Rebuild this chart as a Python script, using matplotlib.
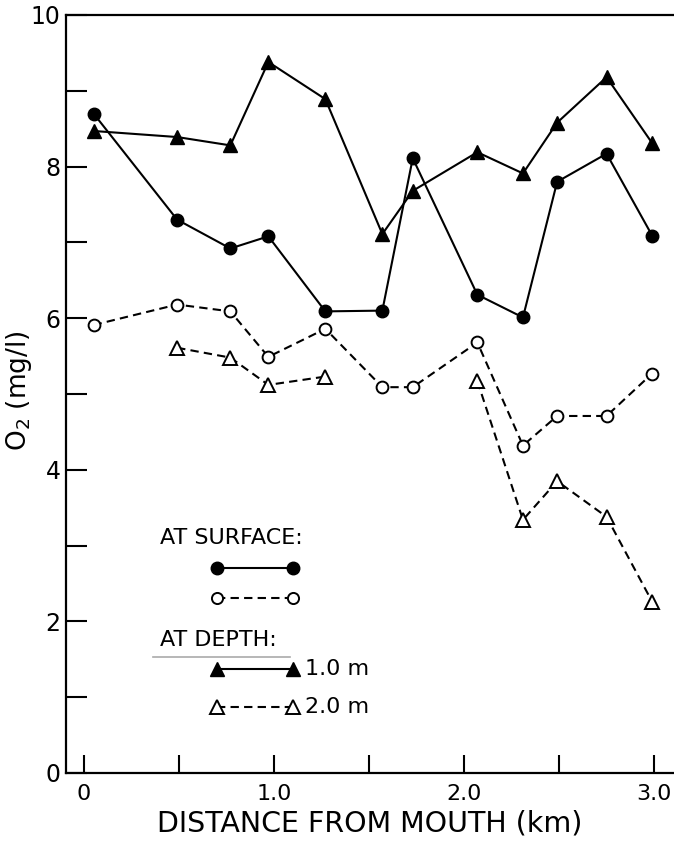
import matplotlib
matplotlib.use("Agg")
import matplotlib.pyplot as plt
from matplotlib.ticker import MultipleLocator, FixedLocator

plt.rcParams['font.family'] = ['DejaVu Sans']
plt.rcParams['mathtext.default'] = 'regular'

# Data (distance km, O2 mg/l)
x_stations = [0.05, 0.49, 0.77, 0.97, 1.27, 1.57, 1.73, 2.07, 2.31, 2.49, 2.75, 2.99]
surface_solid = [8.70, 7.30, 6.92, 7.08, 6.09, 6.10, 8.11, 6.31, 6.01, 7.80, 8.17, 7.09]
surface_dashed = [5.91, 6.18, 6.09, 5.49, 5.86, 5.09, 5.09, 5.68, 4.32, 4.71, 4.71, 5.27]
depth_1m = [8.47, 8.39, 8.28, 9.38, 8.89, 7.11, 7.68, 8.19, 7.91, 8.58, 9.18, 8.31]
x_depth2_a = [0.49, 0.77, 0.97, 1.27]
depth_2m_a = [5.61, 5.48, 5.12, 5.23]
x_depth2_b = [2.07, 2.31, 2.49, 2.75, 2.99]
depth_2m_b = [5.17, 3.34, 3.85, 3.38, 2.26]

xtick_vals = [0, 1.0, 2.0, 3.0]
xtick_labels = ['0', '1.0', '2.0', '3.0']
ytick_vals = [0, 2, 4, 6, 8, 10]
ytick_labels = ['0', '2', '4', '6', '8', '10']

fig = plt.figure(figsize=(6.74, 8.41), dpi=100)
ax = fig.add_axes([66/674, 68/841, 608/674, 758/841])

lw = 1.5
dash = (4, 2.5)
ax.plot(x_stations, surface_solid, '-', color='black', lw=lw, marker='o', ms=9, mfc='black', mec='black', zorder=3)
ax.plot(x_stations, depth_1m, '-', color='black', lw=lw, marker='^', ms=10, mfc='black', mec='black', zorder=3)
ax.plot(x_stations, surface_dashed, color='black', lw=lw, dashes=dash, marker='o', ms=8.5, mfc='white', mec='black', mew=1.4, zorder=3)
ax.plot(x_depth2_a, depth_2m_a, color='black', lw=lw, dashes=dash, marker='^', ms=9.5, mfc='white', mec='black', mew=1.4, zorder=3)
ax.plot(x_depth2_b, depth_2m_b, color='black', lw=lw, dashes=dash, marker='^', ms=9.5, mfc='white', mec='black', mew=1.4, zorder=3)

ax.set_xlim(-0.095, 3.105)
ax.set_ylim(0, 10)

for s in ['left', 'bottom', 'top']:
    ax.spines[s].set_linewidth(1.6)
ax.spines['right'].set_visible(False)

ax.xaxis.set_major_locator(FixedLocator(xtick_vals))
ax.set_xticklabels(xtick_labels)
ax.xaxis.set_minor_locator(MultipleLocator(0.5))
ax.yaxis.set_major_locator(FixedLocator(ytick_vals))
ax.set_yticklabels(ytick_labels)
ax.yaxis.set_minor_locator(MultipleLocator(1))

ax.tick_params(axis='x', which='both', direction='in', length=13, width=1.5, top=False, labelsize=16, pad=8)
ax.tick_params(axis='y', which='both', direction='in', length=15, width=1.5, right=False, labelsize=17, pad=4)

ax.set_xlabel('DISTANCE FROM MOUTH (km)', fontsize=20.5, labelpad=4)
ax.set_ylabel('O$_2$ (mg/l)', fontsize=19)
ax.yaxis.set_label_coords(-0.052, 0.504)

# Legend (drawn manually in axes fraction)
T = ax.transAxes
ax.text(0.1546, 0.310, 'AT SURFACE:', transform=T, fontsize=16, va='center', ha='left')
ax.plot([0.248, 0.373], [0.2704, 0.2704], '-', color='black', lw=lw, marker='o', ms=9, transform=T, clip_on=False)
ax.plot([0.248, 0.373], [0.2309, 0.2309], color='black', lw=lw, dashes=dash, marker='o', ms=8, mfc='white', mew=1.4, transform=T, clip_on=False)
ax.text(0.1546, 0.1755, 'AT DEPTH:', transform=T, fontsize=16, va='center', ha='left')
ax.plot([0.143, 0.368], [0.153, 0.153], '-', color='#aaaaaa', lw=1.2, transform=T)
ax.plot([0.248, 0.373], [0.1372, 0.1372], '-', color='black', lw=lw, marker='^', ms=10, transform=T, clip_on=False)
ax.text(0.393, 0.1372, '1.0 m', transform=T, fontsize=16, va='center', ha='left')
ax.plot([0.248, 0.373], [0.0871, 0.0871], color='black', lw=lw, dashes=dash, marker='^', ms=9.5, mfc='white', mew=1.4, transform=T, clip_on=False)
ax.text(0.393, 0.0871, '2.0 m', transform=T, fontsize=16, va='center', ha='left')

fig.savefig('out.png', dpi=100)
